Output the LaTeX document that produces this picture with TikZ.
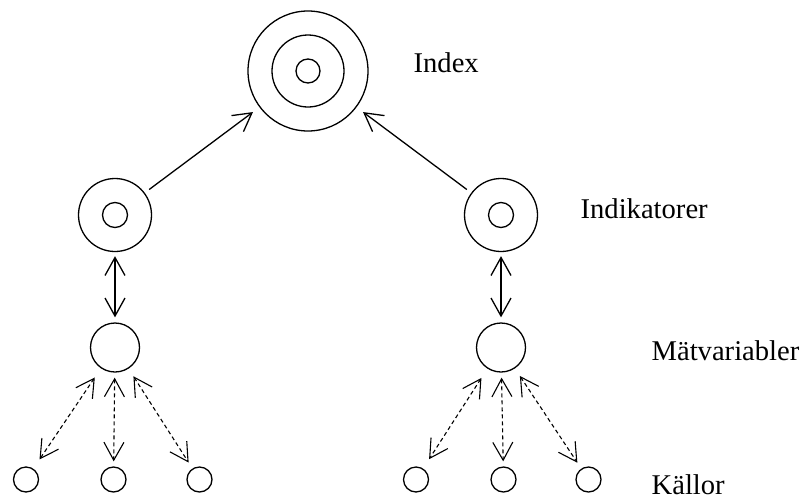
\documentclass[tikz,border=0pt]{standalone}
\usepackage{fontspec}
\setmainfont{Liberation Serif}
\usetikzlibrary{arrows.meta}
\tikzset{
  ring/.style={draw, circle, inner sep=0pt, minimum size=#1},
  lbl/.style={anchor=base west, inner sep=0pt, font=\fontsize{14.3}{17}\selectfont},
  tip/.style={-{Straight Barb[length=9pt,width=10pt]}},
  both/.style={{Straight Barb[length=9pt,width=10pt]}-{Straight Barb[length=9pt,width=10pt]}},
  src/.style={both, dash pattern=on 2pt off 1.5pt, line width=0.55pt}
}
\begin{document}
\begin{tikzpicture}[x=0.5pt, y=-0.5pt, line width=0.65pt]
\useasboundingbox (0,0) rectangle (806,498);
\node[ring=60pt] (idx) at (308,71) {};
\node[ring=36pt] at (idx) {};
\node[ring=12pt] at (idx) {};
\node[ring=36.5pt] (ind1) at (115,215) {};
\node[ring=12.5pt] at (ind1) {};
\node[ring=36.5pt] (ind2) at (501,215) {};
\node[ring=12.5pt] at (ind2) {};
\node[ring=24.5pt] (mv1) at (115,347.5) {};
\node[ring=24.5pt] (mv2) at (501,347.5) {};
\foreach \x/\n in {26/1,113.5/2,199.5/3}
  \node[ring=12.5pt] (sa\n) at (\x,479.5) {};
\foreach \x/\n in {416/1,503.5/2,588.5/3}
  \node[ring=12.5pt] (sb\n) at (\x,479.5) {};
\draw[tip, shorten <=2.75pt, shorten >=4pt] (ind1) -- (idx);
\draw[tip, shorten <=2.75pt, shorten >=4pt] (ind2) -- (idx);
\draw[both, shorten <=2pt, shorten >=2.5pt] (ind1) -- (mv1);
\draw[both, shorten <=2pt, shorten >=2.5pt] (ind2) -- (mv2);
\draw[src, shorten <=5.5pt, shorten >=5.5pt] (mv1) -- (sa1);
\draw[src, shorten <=2.5pt, shorten >=2.5pt] (mv1) -- (sa2);
\draw[src, shorten <=4.5pt, shorten >=3.5pt] (mv1) -- (sa3);
\draw[src, shorten <=5.5pt, shorten >=5.5pt] (mv2) -- (sb1);
\draw[src, shorten <=2.5pt, shorten >=2.5pt] (mv2) -- (sb2);
\draw[src, shorten <=4.5pt, shorten >=3.5pt] (mv2) -- (sb3);
\node[lbl] (tIdx) at (413,72) {Index};
\node[lbl] (tInd) at (580,218) {Indikatorer};
\node[lbl] (tMv) at (651,360) {Mätvariabler};
\node[lbl] (tSrc) at (651,494) {Källor};
\end{tikzpicture}
\end{document}
